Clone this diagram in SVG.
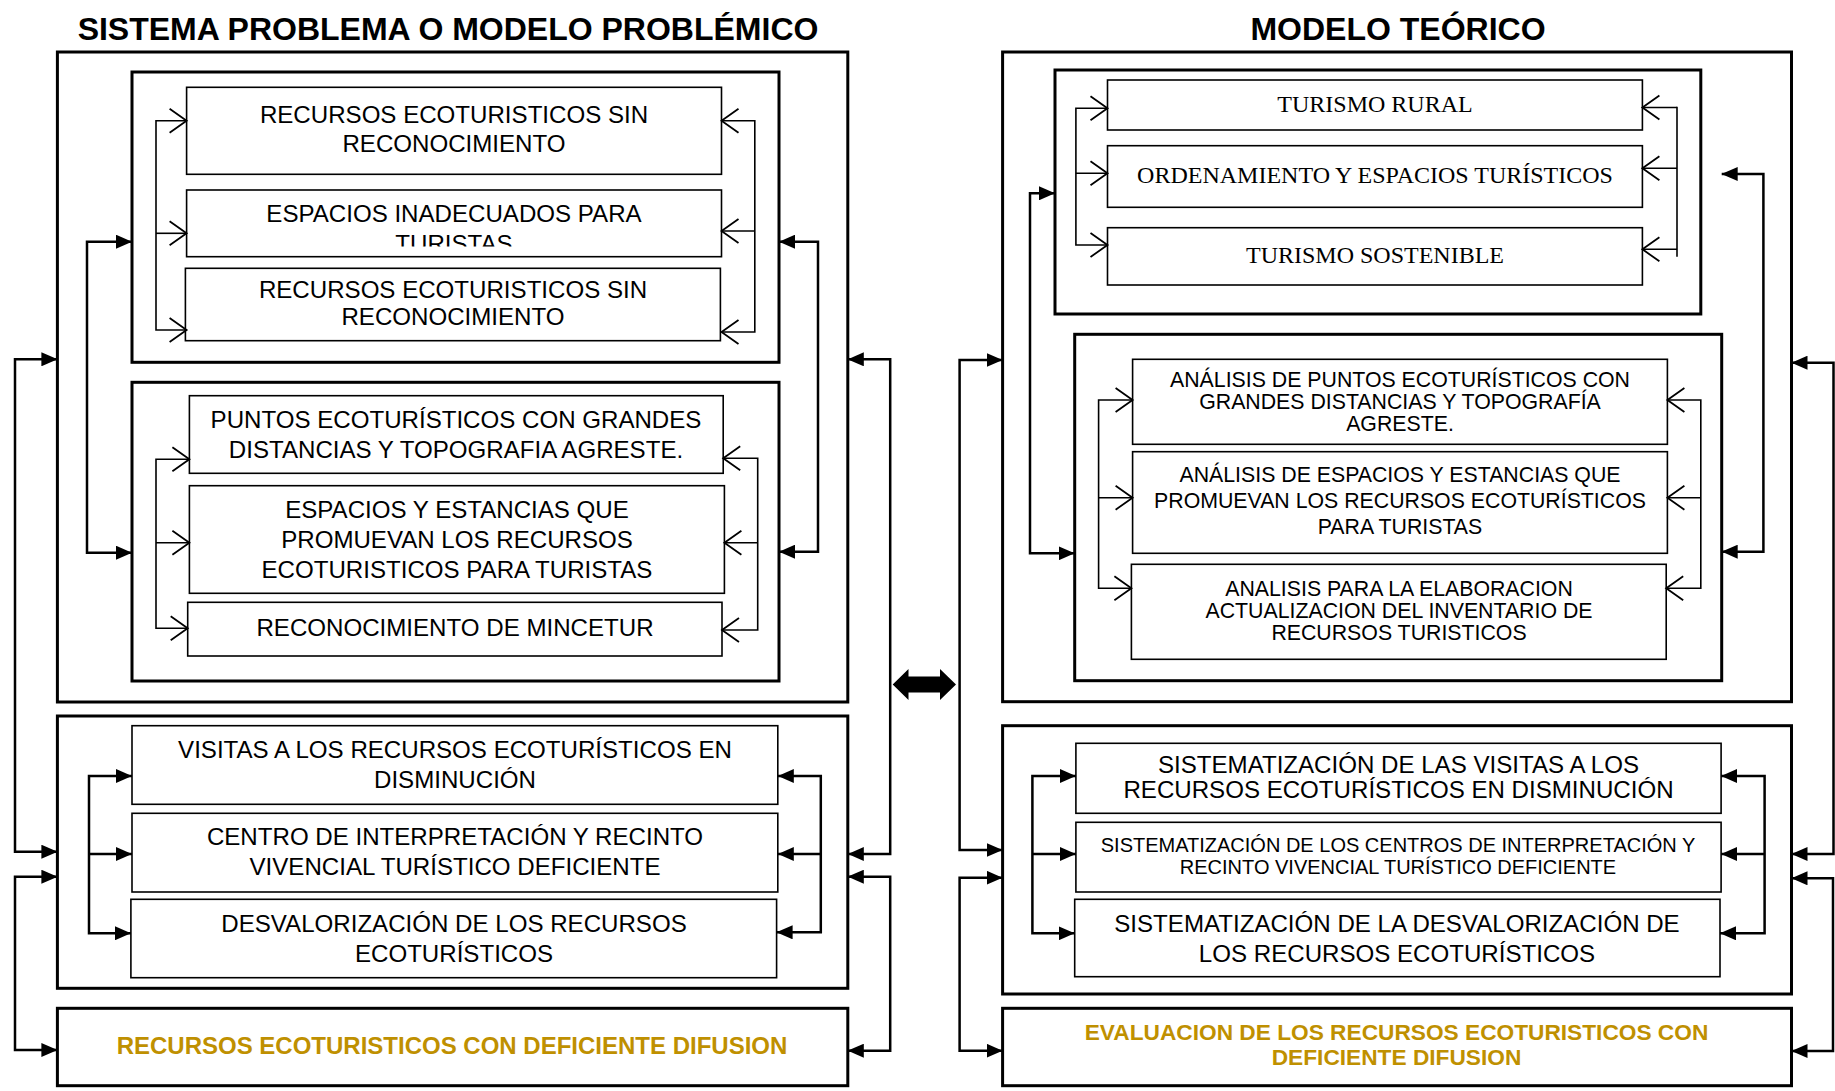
<svg xmlns="http://www.w3.org/2000/svg" width="1835" height="1091" viewBox="0 0 1835 1091">
<style>
.bg{fill:#fff}
.frame{fill:#fff;stroke:#000;stroke-width:3}
.item{fill:#fff;stroke:#000;stroke-width:1.6}
.t{font-family:"Liberation Sans",Arial,sans-serif;font-size:24.1px;fill:#000;text-anchor:middle}
.ts{font-family:"Liberation Serif","Times New Roman",serif;font-size:24px;fill:#000;text-anchor:middle}
.tb{font-size:21.3px}
.tc{font-size:20px}
.title{font-family:"Liberation Sans",Arial,sans-serif;font-weight:bold;font-size:32px;fill:#000;text-anchor:middle}
.gold{font-family:"Liberation Sans",Arial,sans-serif;font-weight:bold;font-size:24px;fill:#BF9000;text-anchor:middle}
.open{fill:none;stroke:#000;stroke-width:1.6;marker-start:url(#vs);marker-end:url(#ve)}
.openE{fill:none;stroke:#000;stroke-width:1.6;marker-end:url(#ve)}
.plain{fill:none;stroke:#000;stroke-width:1.6}
.fill{fill:none;stroke:#000;stroke-width:2.5;marker-start:url(#fs);marker-end:url(#fe)}
.fillE{fill:none;stroke:#000;stroke-width:2.5;marker-end:url(#fe)}
</style>
<defs>
<marker id="fe" markerUnits="userSpaceOnUse" viewBox="0 0 16 14" markerWidth="16" markerHeight="14" refX="16" refY="7" orient="auto"><path d="M0,0 L16,7 L0,14 z" fill="#000"/></marker>
<marker id="fs" markerUnits="userSpaceOnUse" viewBox="0 0 16 14" markerWidth="16" markerHeight="14" refX="16" refY="7" orient="auto-start-reverse"><path d="M0,0 L16,7 L0,14 z" fill="#000"/></marker>
<marker id="ve" markerUnits="userSpaceOnUse" viewBox="-2 -2 21 28" markerWidth="21" markerHeight="28" refX="17" refY="12" orient="auto"><path d="M0,0 L17,12 L0,24" fill="none" stroke="#000" stroke-width="1.8"/></marker>
<marker id="vs" markerUnits="userSpaceOnUse" viewBox="-2 -2 21 28" markerWidth="21" markerHeight="28" refX="17" refY="12" orient="auto-start-reverse"><path d="M0,0 L17,12 L0,24" fill="none" stroke="#000" stroke-width="1.8"/></marker>
<clipPath id="clipTur"><rect x="187" y="190" width="534" height="56.5"/></clipPath>
</defs>
<rect class="bg" x="0" y="0" width="1835" height="1091"/>

<g id="titles">
<text class="title" x="448" y="40">SISTEMA PROBLEMA O MODELO PROBLÉMICO</text>
<text class="title" x="1398" y="40">MODELO TEÓRICO</text>
</g>

<!-- LEFT COLUMN -->
<g id="left-outer-1"><rect class="frame" x="57.4" y="52" width="790.4" height="650"/></g>
<g id="left-box-A"><rect class="frame" x="132" y="72" width="647" height="290.3"/></g>
<g id="left-A1"><rect class="item" x="186.6" y="87.3" width="534.9" height="87"/>
<text class="t" x="454" y="123">RECURSOS ECOTURISTICOS SIN</text><text class="t" x="454" y="152">RECONOCIMIENTO</text></g>
<g id="left-A2"><rect class="item" x="186.6" y="190" width="534.9" height="66.7"/>
<text class="t" x="454" y="221.7">ESPACIOS INADECUADOS PARA</text><text class="t" x="454" y="252" clip-path="url(#clipTur)">TURISTAS</text></g>
<g id="left-A3"><rect class="item" x="185.4" y="268.3" width="535" height="72.4"/>
<text class="t" x="453" y="298">RECURSOS ECOTURISTICOS SIN</text><text class="t" x="453" y="325.3">RECONOCIMIENTO</text></g>

<g id="left-box-B"><rect class="frame" x="132" y="382.3" width="647" height="298.7"/></g>
<g id="left-B1"><rect class="item" x="189.4" y="395.7" width="533.8" height="77.6"/>
<text class="t" x="456" y="428.3">PUNTOS ECOTURÍSTICOS CON GRANDES</text><text class="t" x="456" y="458.3">DISTANCIAS Y TOPOGRAFIA AGRESTE.</text></g>
<g id="left-B2"><rect class="item" x="189.4" y="485.7" width="535" height="107.6"/>
<text class="t" x="457" y="518.3">ESPACIOS Y ESTANCIAS QUE</text><text class="t" x="457" y="548.3">PROMUEVAN LOS RECURSOS</text><text class="t" x="457" y="578.3">ECOTURISTICOS PARA TURISTAS</text></g>
<g id="left-B3"><rect class="item" x="187.7" y="602.3" width="534.3" height="53.7"/>
<text class="t" x="455" y="636">RECONOCIMIENTO DE MINCETUR</text></g>

<g id="left-box-2"><rect class="frame" x="57.4" y="716" width="790.4" height="272.3"/></g>
<g id="left-C1"><rect class="item" x="132" y="725.7" width="645.8" height="78.6"/>
<text class="t" x="455" y="758.3">VISITAS A LOS RECURSOS ECOTURÍSTICOS EN</text><text class="t" x="455" y="788.3">DISMINUCIÓN</text></g>
<g id="left-C2"><rect class="item" x="132" y="813.3" width="645.8" height="78.7"/>
<text class="t" x="455" y="845">CENTRO DE INTERPRETACIÓN Y RECINTO</text><text class="t" x="455" y="875">VIVENCIAL TURÍSTICO DEFICIENTE</text></g>
<g id="left-C3"><rect class="item" x="130.9" y="899.3" width="645.7" height="78.4"/>
<text class="t" x="454" y="931.7">DESVALORIZACIÓN DE LOS RECURSOS</text><text class="t" x="454" y="961.7">ECOTURÍSTICOS</text></g>

<g id="left-box-3"><rect class="frame" x="57.4" y="1008.3" width="790.4" height="77.4"/>
<text class="gold" x="452" y="1054">RECURSOS ECOTURISTICOS CON DEFICIENTE DIFUSION</text></g>

<!-- RIGHT COLUMN -->
<g id="right-outer-1"><rect class="frame" x="1002.6" y="52" width="788.9" height="649.7"/></g>
<g id="right-box-A"><rect class="frame" x="1055" y="70" width="645.8" height="244"/></g>
<g id="right-A1"><rect class="item" x="1107.5" y="80" width="534.9" height="50"/>
<text class="ts" x="1375" y="111.7">TURISMO RURAL</text></g>
<g id="right-A2"><rect class="item" x="1107.5" y="145.7" width="534.9" height="61.6"/>
<text class="ts" x="1375" y="183.3">ORDENAMIENTO Y ESPACIOS TURÍSTICOS</text></g>
<g id="right-A3"><rect class="item" x="1107.5" y="227.7" width="534.9" height="57.3"/>
<text class="ts" x="1375" y="263.3">TURISMO SOSTENIBLE</text></g>

<g id="right-box-B"><rect class="frame" x="1074.7" y="334.3" width="647" height="346.4"/></g>
<g id="right-B1"><rect class="item" x="1132.6" y="359.3" width="534.8" height="85"/>
<text class="t tb" x="1400" y="387">ANÁLISIS DE PUNTOS ECOTURÍSTICOS CON</text><text class="t tb" x="1400" y="409">GRANDES DISTANCIAS Y TOPOGRAFÍA</text><text class="t tb" x="1400" y="430.5">AGRESTE.</text></g>
<g id="right-B2"><rect class="item" x="1132.6" y="451.7" width="534.8" height="101.6"/>
<text class="t tb" x="1400" y="482">ANÁLISIS DE ESPACIOS Y ESTANCIAS QUE</text><text class="t tb" x="1400" y="508.3">PROMUEVAN LOS RECURSOS ECOTURÍSTICOS</text><text class="t tb" x="1400" y="534">PARA TURISTAS</text></g>
<g id="right-B3"><rect class="item" x="1131.4" y="564.3" width="534.8" height="95"/>
<text class="t tb" x="1399" y="596">ANALISIS PARA LA ELABORACION</text><text class="t tb" x="1399" y="618.3">ACTUALIZACION DEL INVENTARIO DE</text><text class="t tb" x="1399" y="639.5">RECURSOS TURISTICOS</text></g>

<g id="right-box-2"><rect class="frame" x="1002.6" y="725.7" width="788.9" height="268.3"/></g>
<g id="right-C1"><rect class="item" x="1075.9" y="743.3" width="645.2" height="70"/>
<text class="t" x="1398.5" y="773.3">SISTEMATIZACIÓN DE LAS VISITAS A LOS</text><text class="t" x="1398.5" y="798.3">RECURSOS ECOTURÍSTICOS EN DISMINUCIÓN</text></g>
<g id="right-C2"><rect class="item" x="1075.9" y="822.3" width="645.2" height="69.7"/>
<text class="t tc" x="1398" y="852.3">SISTEMATIZACIÓN DE LOS CENTROS DE INTERPRETACIÓN Y</text><text class="t tc" x="1398" y="874">RECINTO VIVENCIAL TURÍSTICO DEFICIENTE</text></g>
<g id="right-C3"><rect class="item" x="1074.7" y="899.3" width="645.3" height="77.4"/>
<text class="t" x="1397" y="931.7">SISTEMATIZACIÓN DE LA DESVALORIZACIÓN DE</text><text class="t" x="1397" y="961.7">LOS RECURSOS ECOTURÍSTICOS</text></g>

<g id="right-box-3"><rect class="frame" x="1002.6" y="1008.3" width="788.9" height="77.4"/>
<text class="gold" style="font-size:22.7px" x="1396.5" y="1040">EVALUACION DE LOS RECURSOS ECOTURISTICOS CON</text><text class="gold" style="font-size:22.7px" x="1396.5" y="1065">DEFICIENTE DIFUSION</text></g>

<g id="center-double-arrow"><polygon points="892.7,684.5 908.5,669 908.5,676.5 940,676.5 940,669 956,684.5 940,700 940,692.5 908.5,692.5 908.5,700" fill="#000"/></g>

<g id="connectors">
<!-- left box A -->
<path class="open" d="M186.6,120.7 H156 V330 H186.6"/>
<path class="openE" d="M156,233.3 H186.6"/>
<path class="open" d="M721.5,120.7 H754.8 V332 H721.5"/>
<path class="openE" d="M754.8,231 H721.5"/>
<!-- left box B -->
<path class="open" d="M189.4,459.3 H156 V628.3 H187.7"/>
<path class="openE" d="M156,542.7 H189.4"/>
<path class="open" d="M723.2,458.3 H757.7 V630 H722"/>
<path class="openE" d="M757.7,542.7 H724.4"/>
<!-- left outer 1 inner links -->
<path class="fill" d="M132,241.7 H87 V552.7 H132"/>
<path class="fill" d="M779,241.7 H818 V551.7 H779"/>
<!-- left outer links -->
<path class="fill" d="M57.4,359.3 H15 V851.7 H57.4"/>
<path class="fill" d="M57.4,876.7 H15 V1050 H57.4"/>
<path class="fill" d="M847.8,359.3 H890.2 V854 H847.8"/>
<path class="fill" d="M847.8,876.7 H890.2 V1050.7 H847.8"/>
<!-- left box 2 -->
<path class="fill" d="M132,776 H89 V933.3 H130.9"/>
<path class="fillE" d="M89,854 H132"/>
<path class="fill" d="M777.8,776 H820.8 V932.3 H776.6"/>
<path class="fillE" d="M820.8,854 H777.8"/>
<!-- right box A -->
<path class="open" d="M1107.5,108.3 H1075.9 V245 H1107.5"/>
<path class="openE" d="M1075.9,173.3 H1107.5"/>
<path class="plain" d="M1677,106.7 V256.7"/>
<path class="openE" d="M1677,107.5 H1642.4"/>
<path class="openE" d="M1677,168.3 H1642.4"/>
<path class="openE" d="M1677,249.3 H1642.4"/>
<!-- right outer 1 inner links -->
<path class="fill" d="M1055,193.3 H1030 V553.3 H1074.7"/>
<path class="fill" d="M1721.7,174 H1763.4 V551.7 H1721.7"/>
<!-- right box B -->
<path class="open" d="M1132.6,400 H1098.6 V588.3 H1131.4"/>
<path class="openE" d="M1098.6,497.7 H1132.6"/>
<path class="open" d="M1667.4,400 H1700.8 V588.3 H1666.2"/>
<path class="openE" d="M1700.8,497.7 H1667.4"/>
<!-- right outer links -->
<path class="fill" d="M1002.6,360 H959.6 V850 H1002.6"/>
<path class="fill" d="M1002.6,877.7 H959.6 V1050.7 H1002.6"/>
<path class="fill" d="M1791.5,362.7 H1833.5 V854 H1791.5"/>
<path class="fill" d="M1791.5,878.3 H1833 V1051 H1791.5"/>
<!-- right box 2 -->
<path class="fill" d="M1075.9,776 H1032.4 V933.3 H1074.7"/>
<path class="fillE" d="M1032.4,854 H1075.9"/>
<path class="fill" d="M1721.1,776 H1764.6 V933.3 H1720"/>
<path class="fillE" d="M1764.6,854 H1721.1"/>
</g>
</svg>
